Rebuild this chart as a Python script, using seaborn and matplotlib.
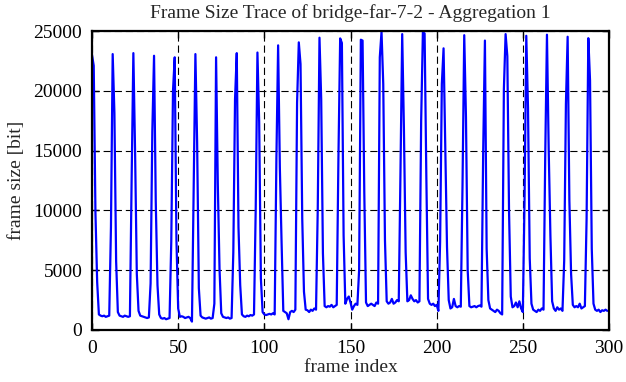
import numpy as np
import pandas as pd
import seaborn as sns
import matplotlib
matplotlib.use('Agg')
import matplotlib.pyplot as plt

# ======================================
# DADOS (um GOP de 12 quadros por linha)
# ======================================

titulo = "Frame Size Trace of bridge-far-7-2 - Aggregation 1"
rotulo_x = "frame index"
rotulo_y = "frame size [bit]"

gop_00 = [23000, 22100, 9800, 4000, 1300, 1200, 1150, 1200, 1100, 1150, 1200, 8600]
gop_01 = [23070, 18150, 5750, 1500, 1200, 1150, 1100, 1200, 1150, 1100, 1150, 12600]
gop_02 = [23150, 14870, 4700, 1600, 1200, 1150, 1100, 1050, 1000, 1050, 3900, 16600]
gop_03 = [22930, 10700, 3750, 1300, 1000, 950, 1000, 900, 950, 1000, 7400, 20000]
gop_04 = [22800, 7500, 1800, 1100, 1150, 1100, 1000, 1050, 1100, 1000, 700, 11760]
gop_05 = [23070, 15700, 3500, 1200, 1050, 1000, 950, 1000, 1050, 950, 1000, 2200]
gop_06 = [22800, 12200, 5100, 1400, 1100, 1050, 1000, 1050, 950, 1000, 6500, 19300]
gop_07 = [23150, 8600, 3750, 1300, 1150, 1100, 1200, 1150, 1250, 1200, 1300, 10150]
gop_08 = [23200, 17400, 4300, 1500, 1300, 1250, 1300, 1350, 1300, 1400, 1300, 14300]
gop_09 = [23800, 13600, 7370, 1600, 1500, 1400, 900, 1500, 1600, 1500, 1700, 19000]
gop_10 = [24050, 22240, 9300, 3200, 1700, 1650, 1500, 1700, 1600, 1800, 1700, 10150]
gop_11 = [24440, 19300, 6400, 2000, 1900, 2000, 1950, 2100, 1900, 2000, 2100, 14450]
gop_12 = [24380, 24000, 7900, 2200, 2600, 2800, 2300, 1700, 2000, 2200, 2100, 5000]
gop_13 = [24270, 24200, 11500, 2300, 2000, 2100, 2200, 2100, 2000, 2300, 2200, 22800]
gop_14 = [24930, 20570, 7500, 2400, 2200, 2300, 2600, 2200, 2300, 2500, 2400, 13200]
gop_15 = [24740, 16800, 6500, 2400, 2500, 2900, 2600, 2400, 2500, 2300, 2400, 17500]
gop_16 = [24880, 24800, 12900, 2600, 2200, 2100, 2200, 2000, 2100, 1600, 7370, 20570]
gop_17 = [23550, 15000, 6950, 2500, 1800, 1900, 2600, 2000, 1900, 2000, 1950, 12100]
gop_18 = [24650, 17800, 5000, 2000, 1900, 1950, 2000, 1900, 2000, 2050, 1950, 15000]
gop_19 = [24200, 6800, 2500, 1800, 1700, 1600, 1500, 1700, 1600, 1400, 1300, 20150]
gop_20 = [24740, 22900, 9870, 2800, 1900, 2000, 2300, 1900, 2400, 1800, 1500, 11000]
gop_21 = [24600, 18600, 6000, 2200, 1700, 1600, 1500, 1700, 1600, 1800, 1700, 14600]
gop_22 = [24690, 15150, 7900, 2400, 1800, 1600, 1900, 1700, 1800, 1600, 5800, 18900]
gop_23 = [24520, 10840, 4700, 2100, 1900, 2000, 1900, 2200, 1800, 1900, 2000, 9300]
gop_24 = [24400, 20850, 6800, 2200, 1700, 1600, 1700, 1500, 1650, 1600, 1700, 1600]

gops = [gop_00, gop_01, gop_02, gop_03, gop_04, gop_05, gop_06, gop_07, gop_08,
        gop_09, gop_10, gop_11, gop_12, gop_13, gop_14, gop_15, gop_16, gop_17,
        gop_18, gop_19, gop_20, gop_21, gop_22, gop_23, gop_24]

tamanhos = [v for g in gops for v in g]
df = pd.DataFrame({'frame': np.arange(len(tamanhos)), 'size': tamanhos})

x_ticks = [0, 50, 100, 150, 200, 250, 300]
y_ticks = [0, 5000, 10000, 15000, 20000, 25000]

# ======================================
# ESTILO
# ======================================

sns.set_style('ticks')
plt.rcParams['font.family'] = ['Liberation Serif', 'DejaVu Serif']

fig = plt.figure(figsize=(6.26, 3.82), dpi=100)
ax = fig.add_axes([92 / 626, 1 - 330 / 382, (609 - 92) / 626, (330 - 31) / 382])

sns.lineplot(data=df, x='frame', y='size', color='#0000ff', linewidth=1.6, ax=ax)

ax.set_xlim(0, 300)
ax.set_ylim(0, 25000)
ax.set_xticks(x_ticks)
ax.set_yticks(y_ticks)
ax.set_xticklabels([str(t) for t in x_ticks])
ax.set_yticklabels([str(t) for t in y_ticks])

ax.grid(True, color='black', linestyle=(0, (6.5, 3.5)), linewidth=0.8)
ax.set_axisbelow(True)

for s in ax.spines.values():
    s.set_visible(True)
    s.set_linewidth(1.6)
    s.set_color('black')

ax.tick_params(direction='in', length=5, width=1, top=True, right=True,
               labelsize=14, pad=7, colors='black')

ax.set_xlabel(rotulo_x, fontsize=14, labelpad=2)
ax.set_ylabel(rotulo_y, fontsize=14, labelpad=6)
ax.set_title(titulo, fontsize=14, pad=9)

fig.savefig('out.png', dpi=100)
